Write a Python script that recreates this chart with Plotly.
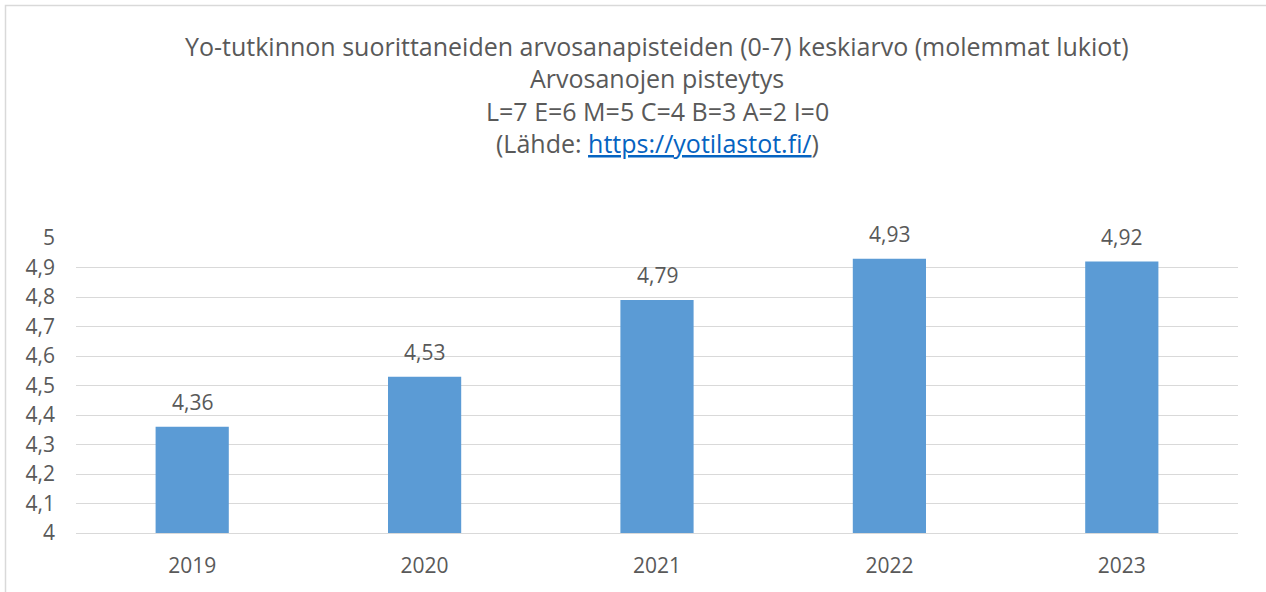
import plotly.graph_objects as go

years = ["2019", "2020", "2021", "2022", "2023"]
averages = [4.36, 4.53, 4.79, 4.93, 4.92]
title_lines = [
    "Yo-tutkinnon suorittaneiden arvosanapisteiden (0-7) keskiarvo (molemmat lukiot)",
    "Arvosanojen pisteytys",
    "L=7 E=6 M=5 C=4 B=3 A=2 I=0",
    "(Lähde: <span style='color:#0563C1'><u>https://yotilastot.fi/</u></span>)",
]

FONT = "Open Sans, Lato, sans-serif"
GRAY = "#595959"

W, H = 1266, 592
L, R, T, B = 76, 28, 238, 59
PW, PH = W - L - R, H - T - B

fig = go.Figure()
fig.add_trace(go.Bar(x=years, y=averages, marker=dict(color="#5B9BD5", line=dict(width=0)),
                     hoverinfo="skip"))

annotations = []
shifts = [192, 160, 127, 95]
for line, s in zip(title_lines, shifts):
    annotations.append(dict(text=line, xref="paper", yref="paper", x=0.5, y=1,
                            xanchor="center", yanchor="middle", yshift=s, showarrow=False,
                            font=dict(family=FONT, size=25, color=GRAY)))
for i, v in enumerate(averages):
    annotations.append(dict(text=f"{v:.2f}".replace(".", ","), x=i, y=v, xref="x", yref="y",
                            yanchor="middle", yshift=25, showarrow=False,
                            font=dict(family=FONT, size=21, color=GRAY)))

fig.update_layout(
    width=W, height=H,
    margin=dict(l=L, r=R, t=T, b=B, pad=0),
    paper_bgcolor="white", plot_bgcolor="white",
    separators=", ",
    bargap=0.685,
    showlegend=False,
    font=dict(family=FONT, size=21, color=GRAY),
    annotations=annotations,
    xaxis=dict(type="category", range=[-0.5, 4.5], showgrid=False, showline=True,
               linecolor="#D9D9D9", linewidth=1, automargin=False,
               ticks="", ticklabelstandoff=14, tickfont=dict(family=FONT, size=21, color=GRAY)),
    yaxis=dict(range=[4, 5], dtick=0.1, tick0=4, showgrid=True, gridcolor="#D9D9D9", gridwidth=1,
               zeroline=False, showline=False, ticks="", ticklabelstandoff=20, automargin=False,
               tickfont=dict(family=FONT, size=21, color=GRAY)),
    shapes=[dict(type="rect", xref="paper", yref="paper",
                 x0=(5.5 - L) / PW, x1=(PW + R + 30) / PW, y0=-(B + 30) / PH, y1=(PH + T - 5.5) / PH,
                 line=dict(color="#D9D9D9", width=1.5), fillcolor="rgba(0,0,0,0)", layer="below")],
)

fig.write_html("out.html", config={"displayModeBar": False},
               post_script="document.body.style.margin='0';document.body.style.overflow='hidden';")
